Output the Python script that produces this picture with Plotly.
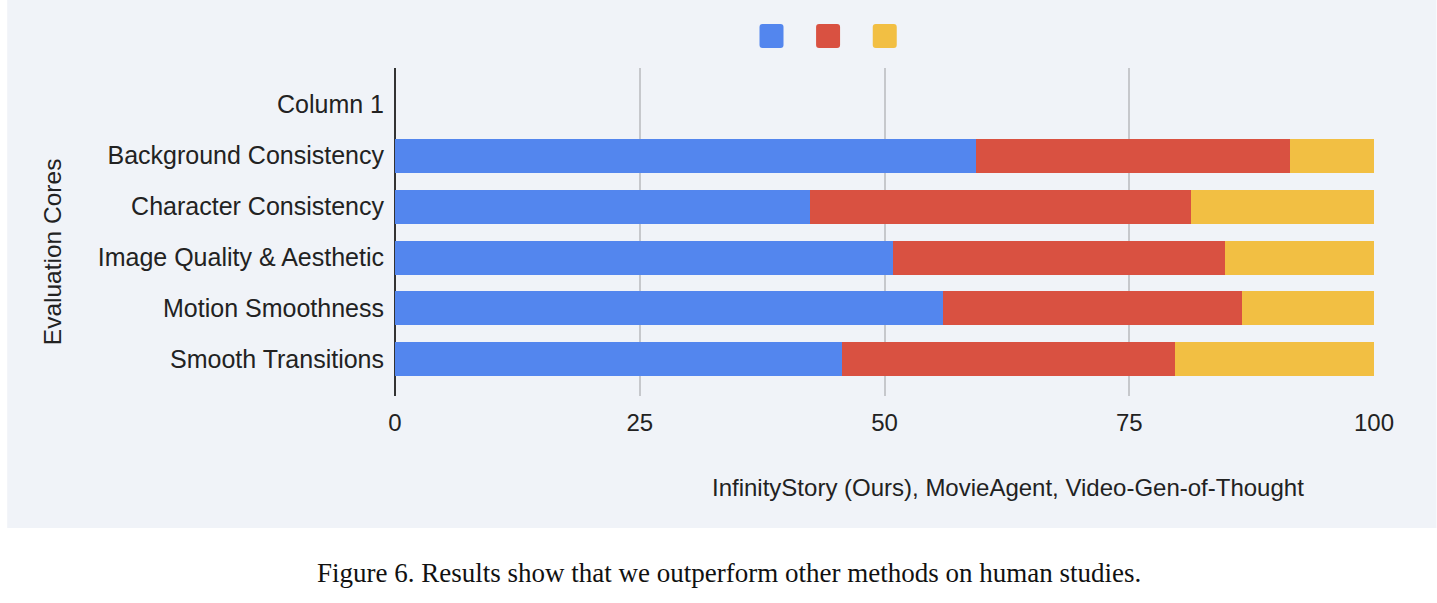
import plotly.graph_objects as go

categories = ["Column 1", "Background Consistency", "Character Consistency",
              "Image Quality & Aesthetic", "Motion Smoothness", "Smooth Transitions"]
series_names = ["InfinityStory (Ours)", "MovieAgent", "Video-Gen-of-Thought"]
infinity = [None, 59.3, 42.4, 50.9, 56.0, 45.7]
movieagent = [None, 32.1, 38.9, 33.9, 30.5, 34.0]
vgot = [None, 8.6, 18.7, 15.2, 13.5, 20.3]
x_ticks = [0, 25, 50, 75, 100]
colors = ["#5386EE", "#D95141", "#F2BF43"]

W, H = 1437, 603
L, R, T, B = 395, 1374.5, 68, 396
pw, ph = R - L, B - T

def px(x):
    return (x - L) / pw

def py(y):
    return (B - y) / ph

fig = go.Figure()
for name, vals, c in zip(series_names, [infinity, movieagent, vgot], colors):
    fig.add_trace(go.Bar(y=categories, x=vals, name=name, orientation="h",
                         marker=dict(color=c, line=dict(width=0)), showlegend=False))

panel = "#F0F3F8"
shapes = [dict(type="rect", xref="paper", yref="paper", x0=px(7), x1=px(1437),
               y0=py(528), y1=py(0), fillcolor=panel, line=dict(width=0), layer="below")]

# legend keys (rounded squares)
for cx, c in zip([771.7, 828.3, 885.0], colors):
    s, r = 24, 3
    x0, x1, y0, y1 = cx - s / 2, cx + s / 2, 36 - s / 2, 36 + s / 2
    path = (f"M {px(x0 + r)} {py(y0)} L {px(x1 - r)} {py(y0)} "
            f"Q {px(x1)} {py(y0)} {px(x1)} {py(y0 + r)} L {px(x1)} {py(y1 - r)} "
            f"Q {px(x1)} {py(y1)} {px(x1 - r)} {py(y1)} L {px(x0 + r)} {py(y1)} "
            f"Q {px(x0)} {py(y1)} {px(x0)} {py(y1 - r)} L {px(x0)} {py(y0 + r)} "
            f"Q {px(x0)} {py(y0)} {px(x0 + r)} {py(y0)} Z")
    shapes.append(dict(type="path", xref="paper", yref="paper", path=path,
                       fillcolor=c, line=dict(width=0), layer="above"))

font_sans = "Liberation Sans, Arial, sans-serif"
annotations = [
    dict(text="Evaluation Cores", xref="paper", yref="paper", x=px(52), y=py(252),
         textangle=-90, showarrow=False, font=dict(family=font_sans, size=24.5, color="#222222"),
         xanchor="center", yanchor="middle"),
    dict(text="InfinityStory (Ours), MovieAgent, Video-Gen-of-Thought", xref="paper", yref="paper",
         x=px(1008), y=py(487), showarrow=False,
         font=dict(family=font_sans, size=24, color="#222222"), xanchor="center", yanchor="middle"),
    dict(text="Figure 6. Results show that we outperform other methods on human studies.",
         xref="paper", yref="paper", x=px(729), y=py(573), showarrow=False,
         font=dict(family="Liberation Serif, Times New Roman, serif", size=27, color="#111111"),
         xanchor="center", yanchor="middle"),
]

fig.update_layout(
    width=W, height=H,
    margin=dict(l=L, r=W - R, t=T, b=H - B, pad=0),
    paper_bgcolor="white", plot_bgcolor=panel,
    barmode="stack", bargap=1 - 34 / 51,
    shapes=shapes, annotations=annotations,
    font=dict(family=font_sans, color="#222222"),
)
fig.update_xaxes(range=[0, 100], tickvals=x_ticks, ticktext=[str(v) for v in x_ticks],
                 showgrid=True, gridcolor="#C6C8CC", gridwidth=1.5,
                 zeroline=True, zerolinecolor="#333333", zerolinewidth=1.5,
                 showline=False, ticks="", ticklabelstandoff=10,
                 tickfont=dict(family=font_sans, size=24, color="#222222"))
fig.update_yaxes(type="category", categoryorder="array", categoryarray=categories,
                 range=[5.716, -0.716], showgrid=False, zeroline=False, showline=False,
                 ticks="", ticklabelstandoff=10,
                 tickfont=dict(family=font_sans, size=25, color="#222222"))

fig.write_html("out.html")
